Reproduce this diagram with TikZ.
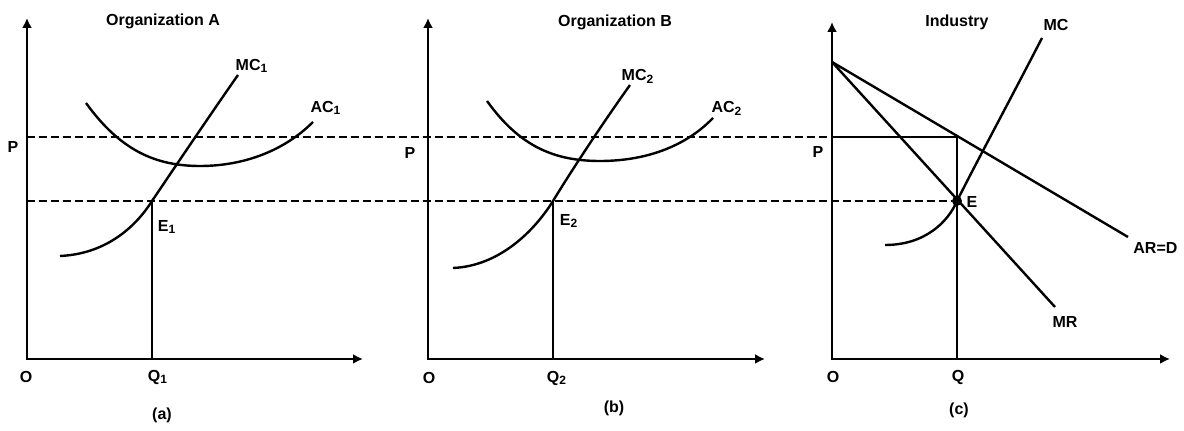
\documentclass[tikz,border=0pt]{standalone}
\usepackage{fontspec}
\setmainfont{Liberation Sans}
\usetikzlibrary{arrows.meta}
\begin{document}
\begin{tikzpicture}[x=0.5pt, y=-0.5pt,
	every node/.style={font=\fontsize{8}{10}\selectfont\bfseries, inner sep=1pt},
	axis/.style={line width=1.2pt, {Latex[length=5pt,width=5pt]}-{Latex[length=5pt,width=5pt]}},
	curve/.style={line width=1.2pt},
	guide/.style={line width=1.2pt, dash pattern=on 4pt off 2pt}]

	\useasboundingbox (0,0) rectangle (1184,431);

	% points of the three panels
	\coordinate (Ya) at (27,18);
	\coordinate (Oa) at (27,359);
	\coordinate (Xa) at (363,359);
	\coordinate (Yb) at (428,18);
	\coordinate (Ob) at (428,359);
	\coordinate (Xb) at (765,359);
	\coordinate (Yc) at (832,22);
	\coordinate (Oc) at (832,359);
	\coordinate (Xc) at (1170,359);

	\coordinate (Pa) at (27,137);
	\coordinate (Pc) at (832,137);
	\coordinate (T) at (957,137);
	\coordinate (La) at (27,201);
	\coordinate (E1) at (152,201);
	\coordinate (E2) at (553,201);
	\coordinate (Q1) at (152,359);
	\coordinate (Q2) at (553,359);
	\coordinate (Q) at (957,359);
	\coordinate (I) at (832,62);
	\coordinate (AR) at (1128,237);
	\coordinate (MR) at (1055,307);
	\node (E) [circle, fill, inner sep=0pt, minimum size=5pt] at (957,201) {};

	% axes
	\draw[axis] (Ya) -- (Oa) -- (Xa);
	\draw[axis] (Yb) -- (Ob) -- (Xb);
	\draw[axis] (Yc) -- (Oc) -- (Xc);

	% price lines
	\draw[guide] (Pa) -- (Pc);
	\draw[line width=1.2pt] (Pc) -- (T) -- (Q);
	\draw[guide] (La) -- (E);
	\draw[line width=1.2pt] (E1) -- (Q1);
	\draw[line width=1.2pt] (E2) -- (Q2);

	% cost curves
	\draw[curve] (60,256) .. controls (105,254) and (135,228) .. (E1)
		.. controls (175,167) and (210,115) .. (238,75);
	\draw[curve] (86,103) .. controls (120,150) and (155,166) .. (200,166)
		.. controls (245,166) and (285,150) .. (313,122);
	\draw[curve] (453,268) .. controls (500,266) and (535,230) .. (E2)
		.. controls (575,165) and (605,120) .. (630,85);
	\draw[curve] (487,101) .. controls (520,147) and (555,161) .. (600,161)
		.. controls (645,161) and (685,147) .. (713,118);
	\draw[curve] (885,245) .. controls (925,245) and (948,222) .. (E.center)
		.. controls (975,165) and (1010,100) .. (1042,38);

	% revenue lines
	\draw[curve] (I) -- (AR);
	\draw[curve] (I) -- (MR);

	% labels
	\node (ta) at (163,21) {Organization A};
	\node (tb) at (615,22) {Organization B};
	\node (tc) at (957,22) {Industry};
	\node (mc1) at (252,66) {MC\textsubscript{1}};
	\node (ac1) at (326,108) {AC\textsubscript{1}};
	\node (mc2) at (638,76) {MC\textsubscript{2}};
	\node (ac2) at (727,108) {AC\textsubscript{2}};
	\node (mc) at (1056,25) {MC};
	\node (ard) [anchor=west] at (1131,248) {AR=D};
	\node (mr) at (1065,322) {MR};
	\node (pa) at (13,147) {P};
	\node (pb) at (410,153) {P};
	\node (pc) at (818,152) {P};
	\node (e1) at (167,227) {E\textsubscript{1}};
	\node (e2) at (569,221) {E\textsubscript{2}};
	\node (e) at (972,202) {E};
	\node (oa) at (26,377) {O};
	\node (ob) at (429,378) {O};
	\node (oc) at (833,377) {O};
	\node (q1) at (158,377) {Q\textsubscript{1}};
	\node (q2) at (557,378) {Q\textsubscript{2}};
	\node (q) at (958,377) {Q};
	\node (ca) at (162,415) {(a)};
	\node (cb) at (614,408) {(b)};
	\node (cc) at (959,410) {(c)};

\end{tikzpicture}
\end{document}
